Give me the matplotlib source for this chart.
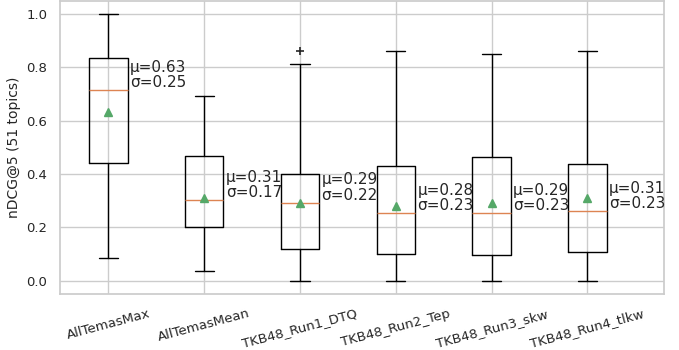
import numpy as np
import matplotlib
matplotlib.use("Agg")
import matplotlib.pyplot as plt
import seaborn as sns

runs   = ["AllTemasMax", "AllTemasMean", "TKB48_Run1_DTQ",
          "TKB48_Run2_Tep", "TKB48_Run3_skw", "TKB48_Run4_tlkw"]
whislo = [0.085, 0.036, 0.0, 0.0, 0.0, 0.0]
q1     = [0.443, 0.202, 0.119, 0.100, 0.095, 0.109]
med    = [0.714, 0.301, 0.293, 0.254, 0.254, 0.260]
q3     = [0.836, 0.466, 0.400, 0.431, 0.462, 0.436]
whishi = [1.000, 0.693, 0.814, 0.861, 0.851, 0.861]
means  = [0.633, 0.31, 0.29, 0.28, 0.29, 0.31]
stds   = [0.25, 0.17, 0.22, 0.23, 0.23, 0.23]
fliers = [[], [], [0.861], [], [], []]

sns.set_theme(style="whitegrid")
plt.rcParams["font.family"] = ["DejaVu Sans"]

stats = []
for i, name in enumerate(runs):
    stats.append(dict(label=name, whislo=whislo[i], q1=q1[i], med=med[i],
                      q3=q3[i], whishi=whishi[i], mean=means[i],
                      fliers=np.array(fliers[i])))

fig, ax = plt.subplots(figsize=(6.79, 3.5), dpi=100)
ax.bxp(stats, showmeans=True, widths=0.4,
       flierprops=dict(marker="+", markeredgecolor="#262626", markersize=6,
                       markeredgewidth=1.2),
       medianprops=dict(color="#DD8452", linewidth=1.0),
       meanprops=dict(marker="^", markerfacecolor="#55A868",
                      markeredgecolor="#55A868", markersize=6))

pos = np.arange(1, len(runs) + 1)
for p, m, mu, sd in zip(pos, med, means, stds):
    ax.text(p + 0.225, m, f"μ={mu:.2f}\nσ={sd:.2f}", va="bottom", ha="left",
            fontsize=11, color="#262626", linespacing=1.02)

ax.set_xlim(0.5, 6.8)
ax.set_ylabel("nDCG@5 (51 topics)", fontsize=10)
ax.tick_params(axis="y", labelsize=9.5)
ax.tick_params(axis="x", labelsize=9.5)
ax.set_xticks(pos)
ax.set_xticklabels(runs, rotation=15, ha="center")

fig.subplots_adjust(left=0.089, right=0.978, top=0.998, bottom=0.16)
fig.savefig("out.png", dpi=100)
